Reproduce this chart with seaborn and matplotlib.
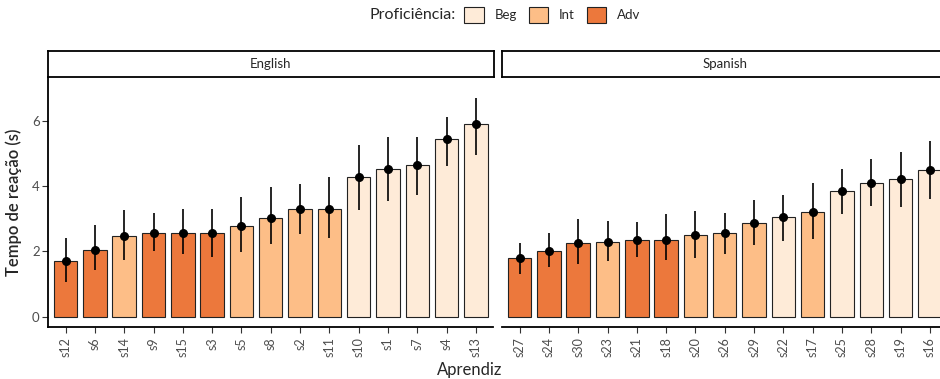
import pandas as pd
import seaborn as sns
import matplotlib.pyplot as plt
from matplotlib.patches import Patch

# data
en_learner = ['s12', 's6', 's14', 's9', 's15', 's3', 's5', 's8', 's2', 's11', 's10', 's1', 's7', 's4', 's13']
en_prof = ['Adv', 'Adv', 'Int', 'Adv', 'Adv', 'Adv', 'Int', 'Int', 'Int', 'Int', 'Beg', 'Beg', 'Beg', 'Beg', 'Beg']
en_mean = [1.71, 2.04, 2.46, 2.55, 2.57, 2.57, 2.79, 3.02, 3.30, 3.31, 4.28, 4.53, 4.65, 5.44, 5.90]
en_low = [1.07, 1.43, 1.74, 2.01, 1.91, 1.83, 1.97, 2.23, 2.53, 2.41, 3.27, 3.56, 3.74, 4.62, 4.96]
en_high = [2.40, 2.81, 3.27, 3.19, 3.30, 3.30, 3.68, 3.99, 4.08, 4.27, 5.26, 5.52, 5.50, 6.13, 6.70]

es_learner = ['s27', 's24', 's30', 's23', 's21', 's18', 's20', 's26', 's29', 's22', 's17', 's25', 's28', 's19', 's16']
es_prof = ['Adv', 'Adv', 'Adv', 'Int', 'Adv', 'Adv', 'Int', 'Int', 'Int', 'Beg', 'Int', 'Beg', 'Beg', 'Beg', 'Beg']
es_mean = [1.79, 2.01, 2.27, 2.28, 2.35, 2.35, 2.51, 2.56, 2.87, 3.04, 3.21, 3.84, 4.09, 4.23, 4.49]
es_low = [1.30, 1.51, 1.61, 1.69, 1.83, 1.74, 1.80, 1.92, 2.19, 2.32, 2.39, 3.14, 3.38, 3.36, 3.60]
es_high = [2.27, 2.56, 3.00, 2.94, 2.91, 3.14, 3.23, 3.17, 3.58, 3.72, 4.11, 4.52, 4.84, 5.04, 5.40]

levels = ['Beg', 'Int', 'Adv']
colors = {'Beg': '#FEEBD8', 'Int': '#FDBE87', 'Adv': '#EC783C'}

sns.set_style('white')
plt.rcParams['font.family'] = ['Lato', 'DejaVu Sans']

W, H = 940, 379
fig = plt.figure(figsize=(W / 100, H / 100), dpi=100)

panels = [
    ('English', en_learner, en_prof, en_mean, en_low, en_high, 48),
    ('Spanish', es_learner, es_prof, es_mean, es_low, es_high, 502),
]

for i, (lang, learner, prof, mean, low, high, x0) in enumerate(panels):
    df = pd.DataFrame({'learner': learner, 'prof': prof, 'mean': mean,
                       'low': low, 'high': high})
    ax = fig.add_axes([x0 / W, (H - 327.3) / H, 445.5 / W, (327.3 - 76.7) / H])
    sns.barplot(data=df, x='learner', y='mean', hue='prof', order=learner,
                hue_order=levels, palette=colors, saturation=1, dodge=False,
                errorbar=None, width=0.8, edgecolor='#222222', linewidth=0.8,
                legend=False, ax=ax)
    xs = range(len(learner))
    ax.vlines(xs, df['low'], df['high'], color='black', linewidth=1.2, zorder=4)
    ax.scatter(xs, df['mean'], color='black', s=30, zorder=5)
    ax.set_xlim(-0.6, len(learner) - 0.4)
    ax.set_ylim(-0.33, 7.36)
    ax.set_yticks([0, 2, 4, 6])
    ax.set_xlabel('')
    ax.set_ylabel('')
    for s in ['top', 'right']:
        ax.spines[s].set_visible(False)
    ax.spines['bottom'].set_linewidth(1.3)
    ax.spines['bottom'].set_color('black')
    ax.tick_params(axis='x', rotation=90, labelsize=9, labelcolor='#4D4D4D',
                   bottom=True, length=4, width=0.8, color='#333333', pad=3)
    if i == 0:
        ax.spines['left'].set_linewidth(1.3)
        ax.spines['left'].set_color('black')
        ax.tick_params(axis='y', labelsize=9.5, labelcolor='#4D4D4D',
                       left=True, length=4, width=0.8, color='#333333', pad=2)
        ax.set_ylabel('Tempo de reação (s)', fontsize=12, labelpad=7,
                      fontweight='semibold')
    else:
        ax.spines['left'].set_visible(False)
        ax.tick_params(axis='y', left=False, labelleft=False)

    # facet strip
    sax = fig.add_axes([x0 / W, (H - 76.5) / H, 445.5 / W, 26 / H])
    sax.set_xticks([])
    sax.set_yticks([])
    for s in sax.spines.values():
        s.set_linewidth(1.3)
        s.set_color('black')
    if i == 1:
        sax.spines['right'].set_visible(False)
    sax.text(0.5, 0.5, lang, ha='center', va='center', fontsize=9.5,
             transform=sax.transAxes)

fig.text(470 / W, 1 - 370 / H, 'Aprendiz', ha='center', va='center', fontsize=12)

# legend on top
fig.text(456 / W, 1 - 15 / H, 'Proficiência:', ha='right', va='center', fontsize=11.5)
handles = [Patch(facecolor=colors[l], edgecolor='#222222', linewidth=0.8, label=l)
           for l in levels]
fig.legend(handles=handles, ncol=3, loc='center left',
           bbox_to_anchor=(460 / W, 1 - 15 / H), frameon=False, fontsize=9.5,
           handlelength=1.5, handleheight=1.5, columnspacing=0.9,
           handletextpad=0.8, borderaxespad=0, borderpad=0.3)

fig.savefig('out.png', dpi=100)
